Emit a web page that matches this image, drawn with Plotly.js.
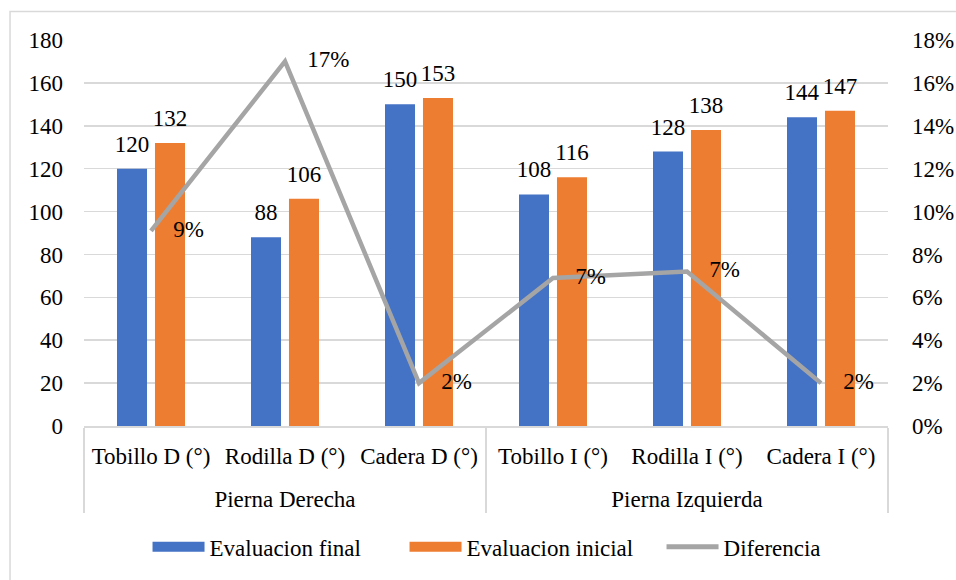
<!DOCTYPE html>
<html>
<head>
<meta charset="utf-8">
<script src="https://cdn.plot.ly/plotly-3.0.1.min.js"></script>
<style>
  html, body { margin: 0; padding: 0; background: #ffffff; }
  #chart { width: 956px; height: 580px; }
  #chart text { font-family: 'Liberation Serif', 'Times New Roman', serif !important; }
</style>
</head>
<body>
<div id="chart"></div>
<script>
// Grupos (pierna) y articulaciones del eje X
const pierna = ['Pierna Derecha', 'Pierna Derecha', 'Pierna Derecha',
                'Pierna Izquierda', 'Pierna Izquierda', 'Pierna Izquierda'];
const articulaciones = ['Tobillo D (°)', 'Rodilla D (°)', 'Cadera D (°)',
                        'Tobillo I (°)', 'Rodilla I (°)', 'Cadera I (°)'];

// Valores de cada evaluación (grados) y diferencia relativa
const evaluacionFinal = [120, 88, 150, 108, 128, 144];
const evaluacionInicial = [132, 106, 153, 116, 138, 147];
const diferencia = [0.091, 0.17, 0.02, 0.069, 0.072, 0.02];

const COLOR_FINAL = '#4472C4';
const COLOR_INICIAL = '#ED7D31';
const COLOR_DIF = '#A5A5A5';
const FONT = 'Liberation Serif';
const GRID = '#d9d9d9';
const txt = () => ({ family: FONT, size: 23, color: '#000000' });

// consulta previa de las fuentes del sistema (sin texto en la página)
const ctx = document.createElement('canvas').getContext('2d');
['23px "Liberation Serif"', '23px serif', '10px monospace', '23px "Open Sans"'].forEach(f => {
  ctx.font = f;
  ctx.measureText(articulaciones.join(' '));
});

// segunda línea mínima: separa la fila de grupos de la fila de articulaciones
const articulacionesEtiqueta = articulaciones.map(
  a => a + '<br><span style="font-size:1px"> </span>');
const x = [pierna, articulacionesEtiqueta];
const vacio = articulaciones.map(() => null);

// valor sobre cada barra, algo separado del extremo
const plantillaBarra = '%{y}<br><span style="font-size:1px;baseline-shift:16px"> </span>';

const traces = [
  {
    type: 'bar', name: 'Evaluacion final', x: x, y: evaluacionFinal,
    marker: { color: COLOR_FINAL }, showlegend: false,
    texttemplate: plantillaBarra, textposition: 'outside', constraintext: 'none',
    cliponaxis: false, textfont: txt()
  },
  {
    type: 'bar', name: 'Evaluacion inicial', x: x, y: evaluacionInicial,
    marker: { color: COLOR_INICIAL }, showlegend: false,
    texttemplate: plantillaBarra, textposition: 'outside', constraintext: 'none',
    cliponaxis: false, textfont: txt()
  },
  {
    type: 'scatter', mode: 'lines', name: 'Diferencia', x: x, y: diferencia,
    yaxis: 'y2', line: { color: COLOR_DIF, width: 4.5 }, showlegend: false
  },
  {
    // etiquetas de porcentaje a la derecha de cada punto
    type: 'scatter', mode: 'markers+text', x: x, y: diferencia, yaxis: 'y2',
    marker: { size: 34, opacity: 0 }, showlegend: false,
    texttemplate: '%{y:.0%}', textposition: 'middle right', cliponaxis: false,
    textfont: txt()
  },
  // entradas de la leyenda (muestras anchas como en las series)
  { type: 'scatter', mode: 'lines', name: 'Evaluacion final', x: x, y: vacio,
    line: { color: COLOR_FINAL, width: 12 } },
  { type: 'scatter', mode: 'lines', name: 'Evaluacion inicial', x: x, y: vacio,
    line: { color: COLOR_INICIAL, width: 12 } },
  { type: 'scatter', mode: 'lines', name: 'Diferencia', x: x, y: vacio, yaxis: 'y2',
    line: { color: COLOR_DIF, width: 5 } }
];

const layout = {
  width: 956, height: 580,
  margin: { l: 84, r: 68, t: 40, b: 149 },
  font: txt(),
  barmode: 'group', bargap: 0.433, bargroupgap: 0.21,
  legend: {
    orientation: 'h', x: 0.5585, xanchor: 'center', y: -0.3127, yanchor: 'middle',
    font: txt(), itemwidth: 52, entrywidth: 190
  },
  xaxis: {
    type: 'multicategory', showline: true, linecolor: GRID, linewidth: 1.5,
    showdividers: true, dividercolor: GRID, dividerwidth: 1.5,
    showgrid: false, ticklabelstandoff: 9, tickfont: txt()
  },
  yaxis: {
    range: [0, 180], dtick: 20, showgrid: true, gridcolor: GRID, gridwidth: 1.5,
    zeroline: false, ticklabelstandoff: 20, tickfont: txt()
  },
  yaxis2: {
    overlaying: 'y', side: 'right', range: [0, 0.18], dtick: 0.02, tickformat: '.0%',
    showgrid: false, zeroline: false, ticklabelstandoff: 23, tickfont: txt()
  },
  shapes: [
    {
      // marco exterior del gráfico
      type: 'rect', xref: 'paper', yref: 'paper',
      x0: -0.092, x1: 1.3, y0: -0.6, y1: 1.074,
      line: { color: GRID, width: 1.5 }
    }
  ]
};

const config = { displayModeBar: false, staticPlot: true };
const dibujar = () => Plotly.newPlot('chart', traces, layout, config);

// se dibuja y se vuelve a dibujar con las fuentes ya resueltas
dibujar().then(() => {
  dibujar();
  requestAnimationFrame(() => dibujar());
  setTimeout(dibujar, 60);
});
</script>
</body>
</html>
